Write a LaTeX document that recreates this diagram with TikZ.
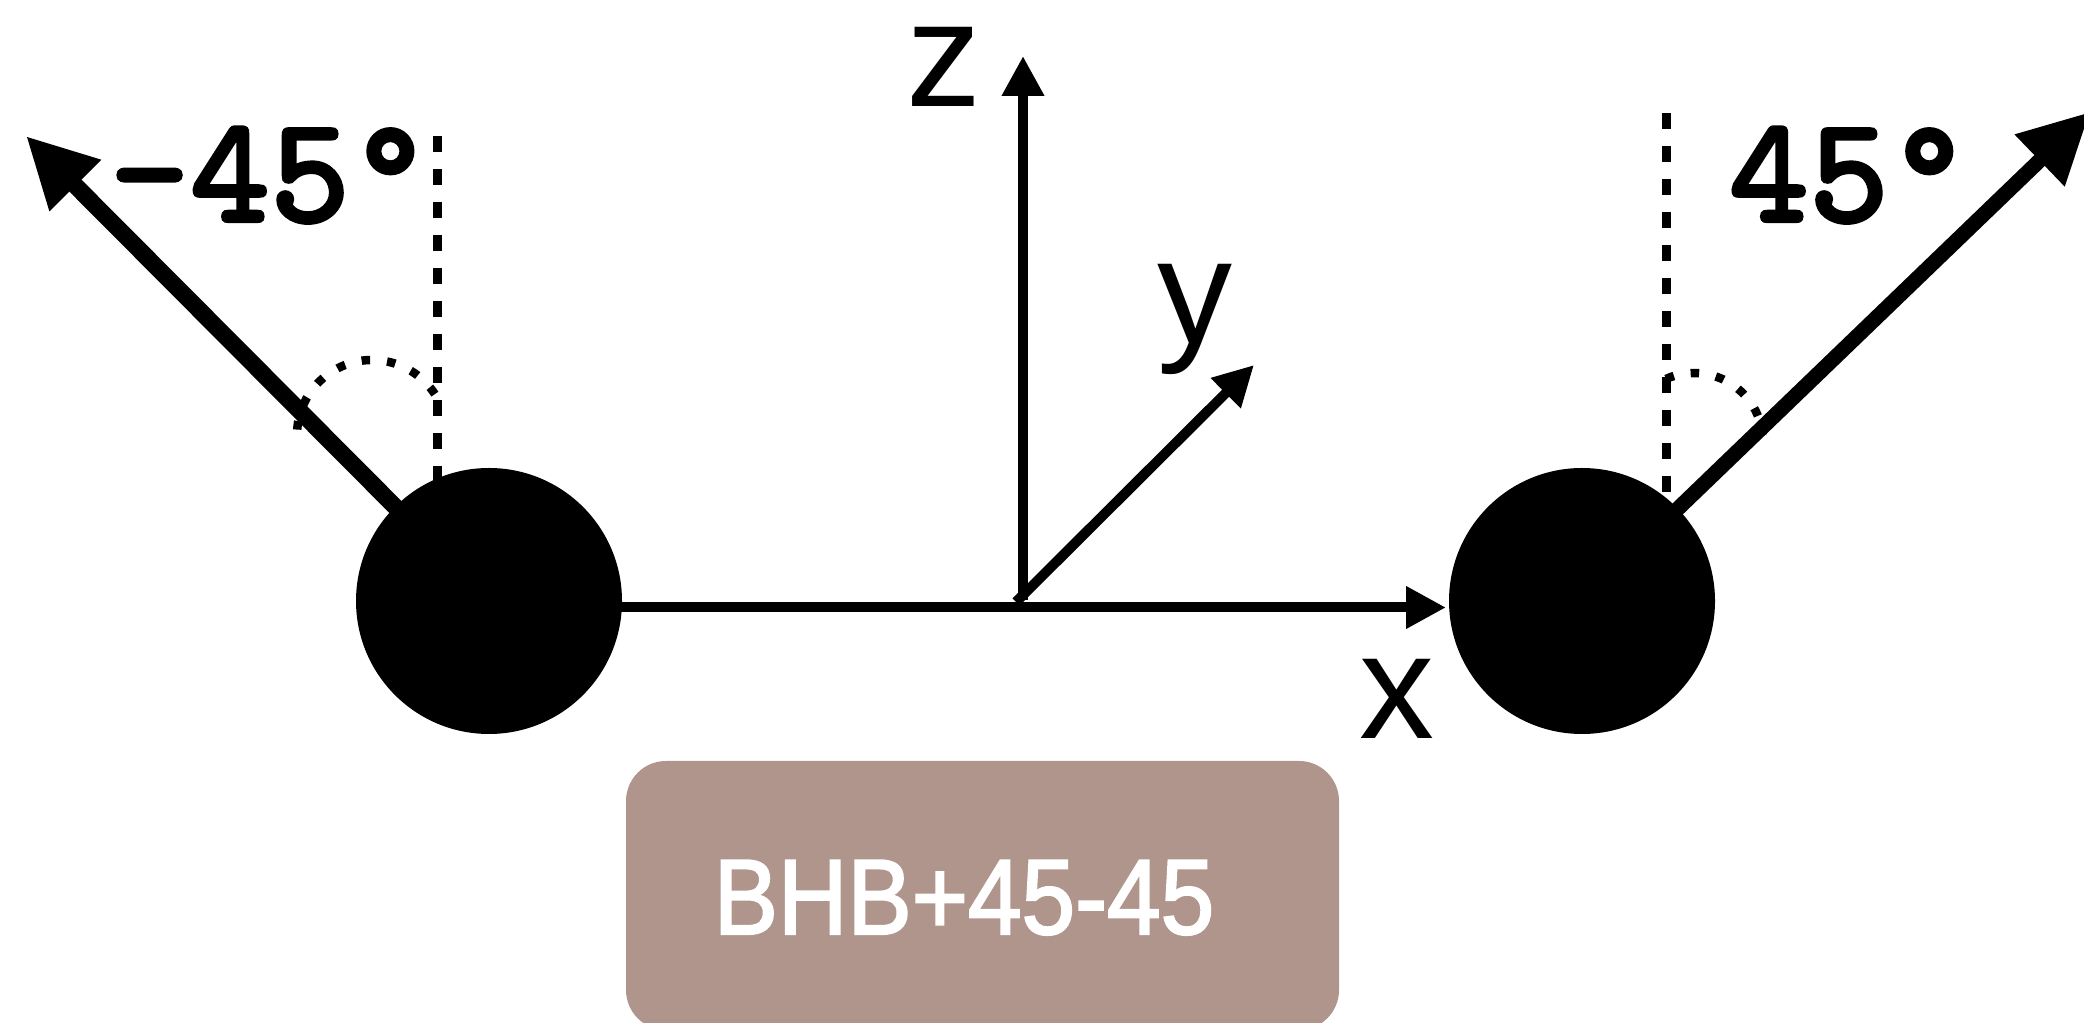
\documentclass[tikz,border=0pt]{standalone}
\usepackage{fontspec}
\setmainfont{Liberation Sans}
\newfontfamily\axfont{Liberation Sans}
\newfontfamily\angfont[FakeBold=3,LetterSpace=1]{lmmono10-regular.otf}
\newfontfamily\tagfont[FakeStretch=0.9,FakeBold=2]{Liberation Sans}
\usetikzlibrary{arrows.meta}
\definecolor{tagbrown}{RGB}{176,149,140}
\begin{document}
\begin{tikzpicture}[x=1pt,y=1pt,
  ball/.style={circle,fill=black,minimum size=266pt,inner sep=0pt},
  axisarrow/.style={line width=10pt,-{Triangle[length=40pt,width=40pt]}},
  spin/.style={-{Triangle[length=70pt,width=68pt]}},
  refline/.style={line width=9pt,dash pattern=on 16pt off 17pt},
  anglearc/.style={line width=8.5pt,dash pattern=on 8.5pt off 17pt},
  axlabel/.style={font=\fontsize{150}{150}\selectfont\axfont,anchor=base,inner sep=0pt,text height=80pt,text depth=0pt},
  anglabel/.style={font=\fontsize{150}{150}\selectfont\angfont,anchor=base,inner sep=0pt,text height=95pt,text depth=0pt},
  tagbox/.style={fill=tagbrown,rounded corners=40pt,minimum width=713pt,minimum height=269pt,inner sep=0pt},
  tagtext/.style={font=\fontsize{107}{107}\selectfont\tagfont,text=white,anchor=base,inner sep=0pt}]
\useasboundingbox (0,0) rectangle (2084,1022);

% positions
\coordinate (Lc) at (489,421);
\coordinate (Rc) at (1582,421);
\coordinate (O) at (1023,422);
\coordinate (Ys) at (1016,420);
\coordinate (Xs) at (489,414.5);
\coordinate (Xtip) at (1446,414.5);
\coordinate (Ztip) at (1023,966);
\coordinate (Ytip) at (1254,657);
\coordinate (Ltip) at (26,886);
\coordinate (Rtip) at (2090,910);
\coordinate (Ldash) at (437,886);
\coordinate (Ldashb) at (437,421);
\coordinate (Rdash) at (1666,909);
\coordinate (Rdashb) at (1666,421);

% reference (vertical) lines
\draw[refline] (Ldash) -- (Ldashb);
\draw[refline] (Rdash) -- (Rdashb);

% angle arcs
\draw[anglearc] (372,587) ++(33:75) arc[start angle=33,end angle=178,radius=75];
\draw[anglearc] (1694,580) ++(114:69) arc[start angle=114,end angle=6,radius=69];

% spins
\draw[spin,line width=17pt] (Lc) -- (Ltip);
\draw[spin,line width=15pt] (Rc) -- (Rtip);

% axes
\draw[axisarrow] (Xs) -- (Xtip);
\draw[axisarrow] (O) -- (Ztip);
\draw[axisarrow] (Ys) -- (Ytip);

% black holes
\node[ball] (L) at (Lc) {};
\node[ball] (R) at (Rc) {};

% labels
\node[axlabel] (zl) at (944,915) {z};
\node[axlabel] (yl) at (1195,678) {y};
\node[axlabel] (xl) at (1397,283) {x};
\node[anglabel] (la) at (270,801) {-45°};
\node[anglabel] (ra) at (1849,801) {45°};

% tag
\node[tagbox] (tag) at (982.5,126.5) {};
\node[tagtext] (tagt) at (964,88) {BHB+45-45};
\end{tikzpicture}
\end{document}
